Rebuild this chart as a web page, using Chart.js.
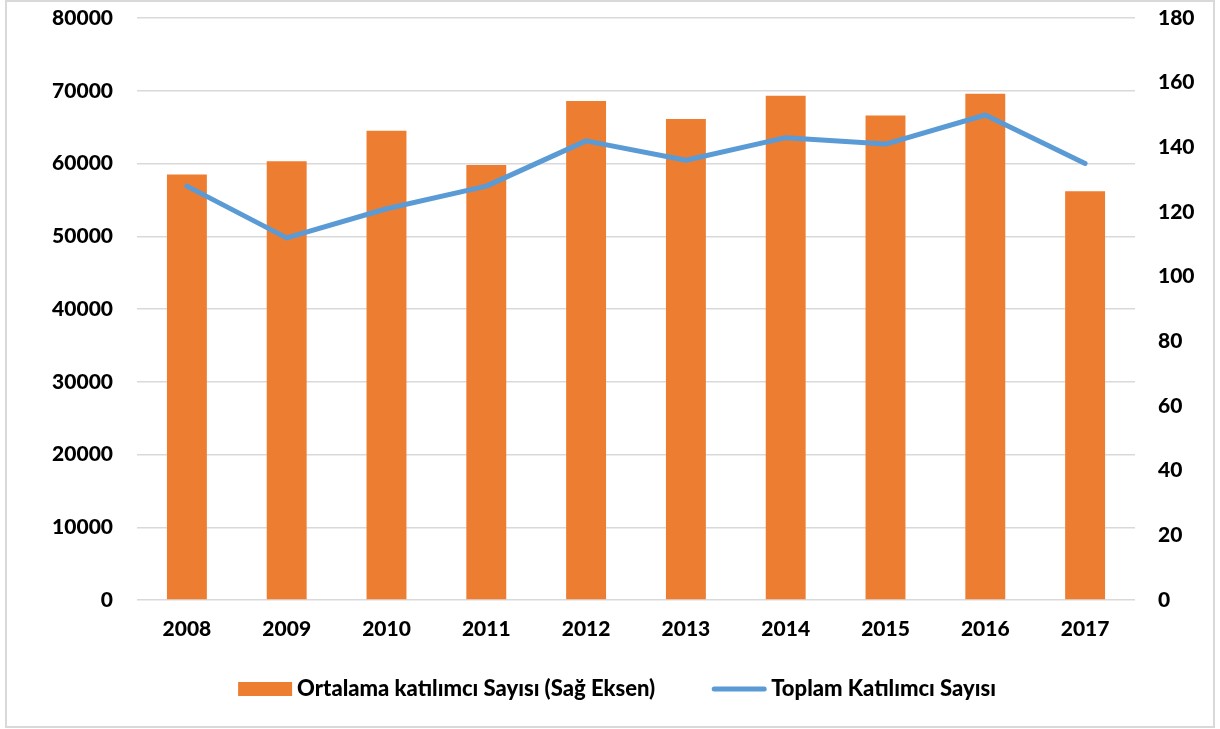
<!DOCTYPE html>
<html>
<head>
<meta charset="utf-8">
<script src="https://cdn.jsdelivr.net/npm/chart.js@4/dist/chart.umd.min.js"></script>
<style>
html,body{margin:0;padding:0;background:#fff;}
#wrap{position:relative;width:1220px;height:729px;}
</style>
</head>
<body>
<div id="wrap"><canvas id="c" width="1220" height="729"></canvas></div>
<script>
const years = ['2008','2009','2010','2011','2012','2013','2014','2015','2016','2017'];
const ortalamaKatilimci = [58500, 60300, 64500, 59800, 68600, 66100, 69300, 66600, 69600, 56200];
const toplamKatilimci = [128, 112, 121, 128, 142, 136, 143, 141, 150, 135];
const seriesLabels = ['Ortalama katılımcı Sayısı (Sağ Eksen)', 'Toplam Katılımcı Sayısı'];

const FONT = 'Lato';
const TICK_FONT = { family: FONT, size: 21, weight: 900 };
const LEGEND_FONT = '900 22px Lato';

const framePlugin = {
  id: 'frame',
  beforeDraw(chart) {
    const ctx = chart.ctx;
    ctx.save();
    ctx.fillStyle = '#fff';
    ctx.fillRect(0, 0, chart.width, chart.height);
    ctx.strokeStyle = '#D9D9D9';
    ctx.lineWidth = 2;
    ctx.strokeRect(6, 1, chart.width - 12, chart.height - 3);
    ctx.restore();
  }
};

// Custom bottom legend (swatch + text per dataset), centred under the chart
const legendPlugin = {
  id: 'customLegend',
  afterDraw(chart) {
    const ctx = chart.ctx;
    const ds = chart.data.datasets;
    const swatchW = 54, swatchH = 14, textGap = 5, itemGap = 57;
    const cy = 689;
    ctx.save();
    ctx.font = LEGEND_FONT;
    ctx.textBaseline = 'middle';
    const widths = ds.map(d => ctx.measureText(d.label).width);
    let total = 0;
    widths.forEach((w, i) => { total += swatchW + textGap + w + (i < widths.length - 1 ? itemGap : 0); });
    let x = 617 - total / 2;
    ds.forEach((d, i) => {
      if (d.type === 'bar') {
        ctx.fillStyle = d.backgroundColor;
        ctx.fillRect(x, cy - swatchH / 2, swatchW, swatchH);
      } else {
        ctx.strokeStyle = d.borderColor;
        ctx.lineWidth = d.borderWidth;
        ctx.lineCap = 'round';
        ctx.beginPath();
        ctx.moveTo(x + 2, cy);
        ctx.lineTo(x + swatchW - 2, cy);
        ctx.stroke();
      }
      x += swatchW + textGap;
      ctx.fillStyle = '#000';
      ctx.fillText(d.label, x, cy);
      x += widths[i] + itemGap;
    });
    ctx.restore();
  }
};

new Chart(document.getElementById('c'), {
  data: {
    labels: years,
    datasets: [
      {
        type: 'bar',
        label: seriesLabels[0],
        data: ortalamaKatilimci,
        backgroundColor: '#ED7D31',
        yAxisID: 'y',
        order: 2,
        barPercentage: 0.8,
        categoryPercentage: 0.5
      },
      {
        type: 'line',
        label: seriesLabels[1],
        data: toplamKatilimci,
        borderColor: '#5B9BD5',
        backgroundColor: '#5B9BD5',
        borderWidth: 5,
        pointRadius: 0,
        pointHoverRadius: 0,
        tension: 0,
        borderCapStyle: 'round',
        borderJoinStyle: 'round',
        yAxisID: 'y1',
        order: 1
      }
    ]
  },
  options: {
    responsive: false,
    maintainAspectRatio: false,
    animation: false,
    layout: { padding: { top: 18, bottom: 60, left: 0, right: 0 } },
    plugins: {
      tooltip: { enabled: false },
      legend: { display: false }
    },
    scales: {
      x: {
        grid: { display: false, drawTicks: false },
        border: { display: false },
        ticks: { padding: 17, color: '#000', font: TICK_FONT, maxRotation: 0 },
        afterFit(scale) { scale.height = 69; }
      },
      y: {
        position: 'left',
        min: 0, max: 80000,
        ticks: { stepSize: 10000, padding: 24, color: '#000', font: TICK_FONT,
                 callback: v => String(v) },
        grid: { color: '#D9D9D9', lineWidth: 1.5, drawTicks: false },
        border: { display: false },
        afterFit(scale) { scale.width = 137; scale.paddingTop = 0; scale.paddingBottom = 0; }
      },
      y1: {
        position: 'right',
        min: 0, max: 180,
        ticks: { stepSize: 20, padding: 23, color: '#000', font: TICK_FONT,
                 callback: v => String(v) },
        grid: { display: false, drawTicks: false },
        border: { display: false },
        afterFit(scale) { scale.width = 85; scale.paddingTop = 0; scale.paddingBottom = 0; }
      }
    }
  },
  plugins: [framePlugin, legendPlugin]
});
</script>
</body>
</html>
